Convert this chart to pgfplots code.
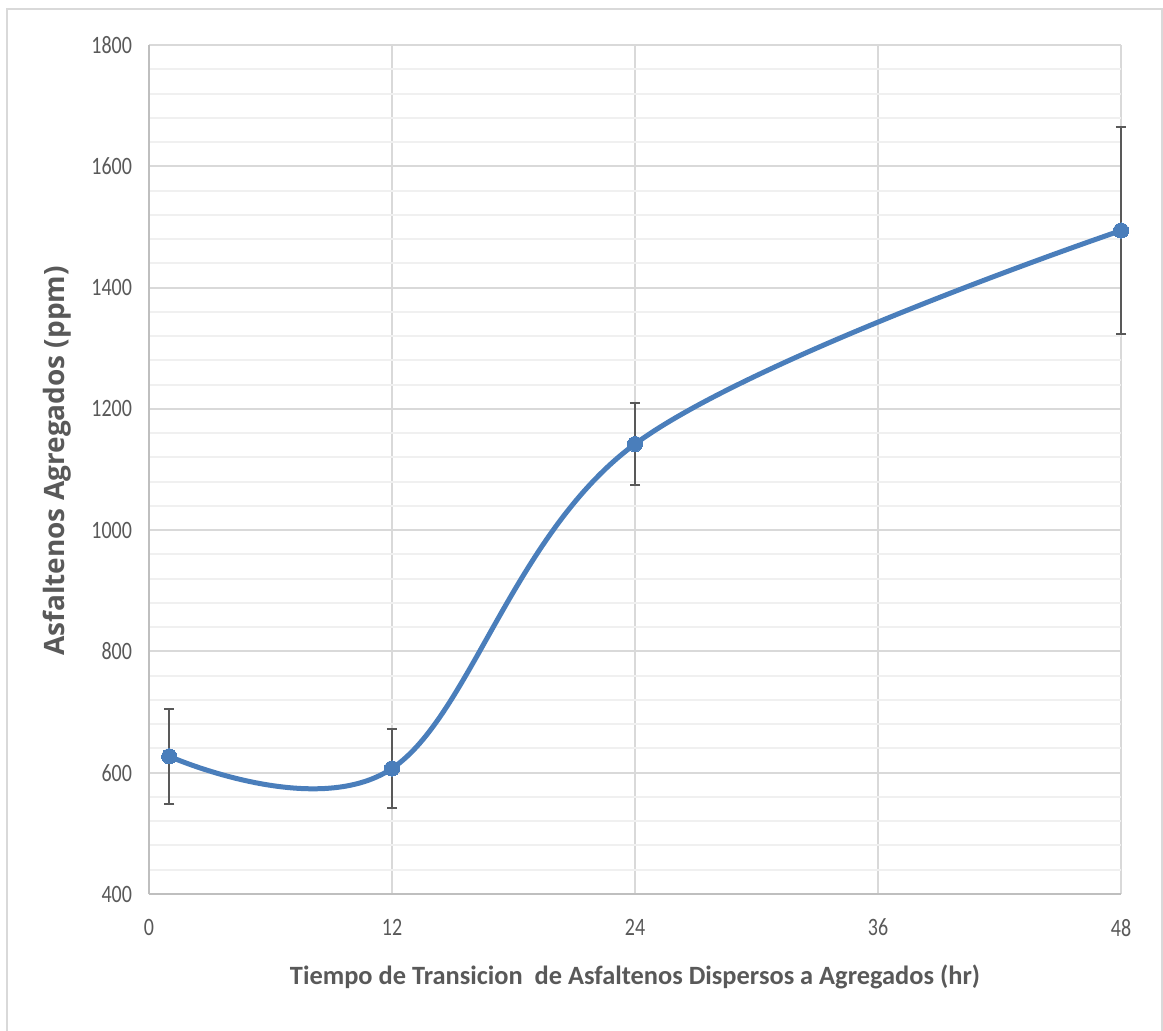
\documentclass[border=0pt]{standalone}
\usepackage{fontspec}
\usepackage{pgfplots}
\pgfplotsset{compat=1.18}
\setmainfont{Carlito}
\newfontfamily\tickfont[FakeStretch=0.8]{Carlito}
\newfontfamily\labfont{Carlito}
\newfontfamily\ylabfont{Open Sans}

\definecolor{txtgray}{HTML}{595959}
\definecolor{majgrid}{HTML}{D9D9D9}
\definecolor{mingrid}{HTML}{F0F0F0}
\definecolor{axgray}{HTML}{BFBFBF}
\definecolor{serblue}{HTML}{4A7EBB}
\definecolor{errgray}{HTML}{595959}
\definecolor{frame}{HTML}{D9D9D9}

\begin{document}
\begin{tikzpicture}[x=1pt,y=1pt]
\useasboundingbox (0,0) rectangle (581.5,515);
% chart area border
\draw[frame, line width=1.2pt] (3.5,-2) -- (3.5,510.5) -- (581,510.5) -- (581,-2);
\begin{axis}[
  at={(74.5pt,68pt)}, anchor=south west,
  width=486pt, height=424.5pt, scale only axis,
  xmin=0, xmax=48, ymin=400, ymax=1800,
  xtick={0,12,24,36,48},
  ytick={400,600,...,1800},
  minor ytick={440,480,...,1760},
  ymajorgrids, yminorgrids, xmajorgrids,
  major grid style={majgrid, line width=1pt},
  minor grid style={mingrid, line width=1pt},
  axis line style={axgray, line width=1pt},
  axis x line*=bottom, axis y line*=left,
  separate axis lines,
  x axis line style={-}, y axis line style={-},
  tick style={draw=none},
  minor tick style={draw=none},
  /pgf/number format/assume math mode=true,
  /pgf/number format/1000 sep={},
  tick label style={font=\tickfont\fontsize{12.5}{14}\selectfont, text=txtgray},
  xticklabel style={yshift=-9pt},
  yticklabel style={xshift=-5pt},
  xlabel={Tiempo de Transicion\ \ de Asfaltenos Dispersos a Agregados (hr)},
  ylabel={Asfaltenos Agregados (ppm)},
  xlabel style={font=\labfont\bfseries\fontsize{13.2}{15}\selectfont, text=txtgray, at={(axis description cs:0.5,0)}, anchor=center, yshift=-41.5pt},
  ylabel style={font=\ylabfont\bfseries\fontsize{14}{16}\selectfont, text=txtgray, at={(axis description cs:-0.0947,0.51)}, anchor=center},
  clip=false,
]
\addplot[serblue, line width=2.5pt, smooth, tension=0.6,
  mark=*, mark size=3.8pt, mark options={fill=serblue, draw=serblue, line width=0pt},
  error bars/.cd, y dir=both, y explicit,
  error bar style={errgray, line width=1pt},
  error mark options={rotate=90, errgray, mark size=2.6pt, line width=1pt}]
  coordinates {
    (1,627)  +- (0,78)
    (12,607) +- (0,65)
    (24,1142) +- (0,68)
    (48,1494) +- (0,171)
  };
\end{axis}
\end{tikzpicture}
\end{document}
